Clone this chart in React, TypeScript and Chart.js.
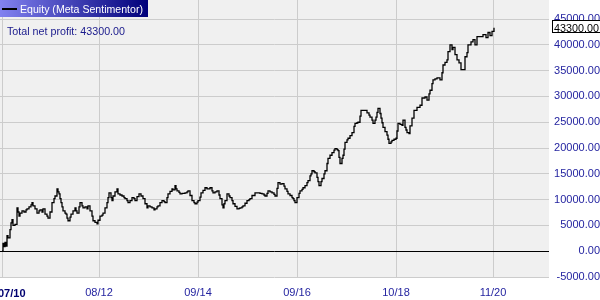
import React, { useEffect, useRef } from "react";
import { Chart, registerables } from "chart.js";

Chart.register(...registerables);

// bar index (time axis) and equity values
const barIndex: number[] = [
  2, 3, 4, 5, 6, 7, 8, 10, 11, 12, 13, 15, 17, 18, 19, 20, 22, 24, 26, 27, 29, 31, 32, 33, 35, 37, 39, 40, 42, 43, 45, 47, 48, 50,
  52, 54, 55, 57, 58, 59, 60, 61, 62, 63, 65, 66, 67, 68, 70, 71, 73, 75, 76, 77, 79, 80, 82, 83, 85, 87, 88, 90, 92, 93, 95, 97,
  98, 100, 102, 103, 105, 107, 108, 109, 111, 112, 113, 115, 117, 118, 120, 122, 124, 125, 127, 128, 130, 132, 134, 135, 137, 139,
  141, 143, 145, 147, 148, 150, 152, 154, 155, 157, 158, 160, 162, 164, 165, 167, 168, 170, 172, 173, 175, 176, 177, 179, 180, 182,
  185, 187, 188, 190, 192, 194, 195, 197, 198, 200, 201, 203, 205, 207, 210, 212, 213, 215, 217, 219, 220, 222, 223, 224, 225, 227,
  229, 230, 232, 233, 235, 237, 239, 240, 242, 243, 245, 247, 249, 250, 252, 255, 258, 260, 262, 264, 265, 267, 268, 270, 272, 274,
  275, 277, 278, 280, 282, 284, 285, 287, 288, 290, 292, 293, 294, 295, 297, 299, 300, 302, 303, 305, 307, 308, 310, 311, 312, 314,
  315, 317, 318, 319, 321, 322, 324, 325, 327, 328, 330, 332, 334, 335, 337, 338, 339, 340, 342, 343, 344, 345, 347, 348, 350, 352,
  354, 355, 357, 358, 360, 361, 363, 365, 367, 369, 370, 372, 373, 375, 376, 377, 378, 380, 381, 382, 383, 385, 387, 388, 389, 391,
  392, 394, 396, 397, 398, 400, 402, 403, 405, 406, 407, 409, 410, 412, 414, 417, 420, 422, 425, 427, 429, 430, 432, 433, 435, 437,
  440, 442, 443, 445, 447, 448, 450, 452, 453, 455, 457, 459, 461, 463, 465, 467, 468, 471, 473, 475, 477, 480, 482, 483, 486, 488,
  490, 492, 494,
];

const equity: number[] = [
  0, 1500, 900, 1700, 1000, 3000, 2600, 4200, 5500, 6100, 5000, 5200, 8400, 7600, 6800, 7400, 7800, 7600, 8000, 8200, 8600, 9000, 9400, 8800, 8200, 7400, 7800, 8000, 7600, 8200, 7200, 6800, 6400, 7600,
  9400, 10200, 10700, 12100, 11500, 11100, 10200, 9400, 8600, 7800, 7400, 7200, 6400, 5900, 6600, 7200, 7800, 8400, 7800, 7400, 8600, 9400, 8800, 8400, 8600, 8200, 8800, 7800, 6800, 5900, 5600, 5300,
  6000, 6800, 7000, 7400, 8400, 9400, 10400, 11300, 10400, 9800, 10700, 11500, 12100, 11100, 10900, 10700, 10400, 10200, 9800, 9400, 9800, 10400, 10200, 9800, 10600, 11100,
  10700, 10200, 9200, 8400, 8800, 8600, 8400, 8000, 8200, 8600, 8800, 9400, 9800, 9600, 9400, 10400, 11100, 11600, 12100, 11900, 12700, 12100, 11700, 11400, 11100, 11200,
  11300, 11500, 11700, 10800, 9800, 9400, 9200, 9500, 9800, 10500, 11300, 11800, 12300, 12100, 12300, 11700, 11300, 11500, 11700, 10900, 10200, 9000, 8400, 9200, 9800, 11100,
  10700, 10400, 9800, 9200, 8700, 8200, 8300, 8400, 8600, 8800, 9300, 9800, 10000, 10200, 10800, 11300, 11300, 11200, 11100, 10900, 10700, 11200, 11700, 11500, 11300, 11000,
  10700, 12200, 13300, 13000, 13100, 12600, 12100, 11600, 11100, 10800, 10400, 10200, 9800, 9400, 10400, 11200, 11700, 12000, 12300, 12700, 13300, 13700, 14600, 15000, 15600, 15400,
  15200, 14300, 13500, 12700, 13500, 14100, 15000, 15600, 17000, 18000, 18600, 19100, 19600, 19900, 19700, 19500, 18200, 17000, 18000, 18600, 19800, 21100, 21600, 21900, 22400, 23000,
  24200, 24800, 24900, 25000, 26200, 27300, 27300, 27300, 26800, 26400, 26000, 25400, 24800, 25400, 26000, 26900, 27700, 26700, 25800, 24900, 24000, 23200, 22500, 21700, 20900, 21200,
  21500, 21700, 21900, 23300, 24800, 24600, 24400, 25400, 24000, 23500, 23000, 22800, 24300, 25800, 27300, 27900, 28300, 29700, 29900, 29300, 30500, 31200, 32500, 33200, 33400, 33600,
  33200, 34600, 36100, 36600, 37100, 38700, 40000, 39100, 39500, 38100, 37100, 36500, 35200, 35200, 37700, 38500, 40000, 40600, 41000, 40000, 41600, 41600, 41600, 42000, 41400, 42400,
  41800, 42600, 43300,
];

const xTickPositions: number[] = [2, 99, 198, 297, 396, 493];
const xTickLabels: string[] = ["07/10", "08/12", "09/14", "09/16", "10/18", "11/20"];
const yTickValues: number[] = [-5000, 0, 5000, 10000, 15000, 20000, 25000, 30000, 35000, 40000, 45000];

const legendTitle = "Equity (Meta Sentimentor)";
const profitText = "Total net profit: 43300.00";
const lastValue = 43300;

const FONT = "'Liberation Sans', Arial, sans-serif";

const decorPlugin = {
  id: "decor",
  beforeDraw(chart: any) {
    const { ctx, chartArea, width, height } = chart;
    ctx.save();
    ctx.fillStyle = "#ffffff";
    ctx.fillRect(0, 0, width, height);
    ctx.fillStyle = "#f0f0f0";
    ctx.fillRect(chartArea.left, chartArea.top, chartArea.right - chartArea.left, chartArea.bottom - chartArea.top);
    ctx.restore();
  },
  afterDraw(chart: any) {
    const { ctx } = chart;
    const yScale = chart.scales.y;
    ctx.save();
    // first x label, clamped to the left edge
    ctx.font = `bold 11px ${FONT}`;
    ctx.fillStyle = "#000070";
    ctx.textAlign = "left";
    ctx.textBaseline = "alphabetic";
    ctx.fillText(xTickLabels[0], -2, 297);
    // legend box
    const grad = ctx.createLinearGradient(0, 0, 148, 0);
    grad.addColorStop(0, "#8282f0");
    grad.addColorStop(1, "#00007a");
    ctx.fillStyle = grad;
    ctx.fillRect(0, 0, 148, 17);
    ctx.fillStyle = "#000000";
    ctx.fillRect(2, 8, 15, 2);
    ctx.fillStyle = "#ffffff";
    ctx.font = `11px ${FONT}`;
    ctx.fillText(legendTitle, 20, 13, 123);
    // profit text
    ctx.fillStyle = "#1a1a8c";
    ctx.fillText(profitText, 7, 35, 118);
    // last value box
    const py = Math.round(yScale.getPixelForValue(lastValue));
    ctx.fillStyle = "#ffffff";
    ctx.fillRect(552, py - 7, 48, 12);
    ctx.strokeStyle = "#000000";
    ctx.lineWidth = 1;
    ctx.strokeRect(552.5, py - 7.5, 48, 12);
    ctx.fillStyle = "#000000";
    ctx.fillText(lastValue.toFixed(2), 554, py + 3.5, 45);
    ctx.restore();
  },
};

export default function App() {
  const ref = useRef<HTMLCanvasElement | null>(null);

  useEffect(() => {
    if (!ref.current) return;
    const chart = new Chart(ref.current, {
      type: "line",
      data: {
        datasets: [
          {
            data: barIndex.map((x, i) => ({ x, y: equity[i] })),
            borderColor: "#000000",
            borderWidth: 1.3,
            pointRadius: 0,
            stepped: true,
            fill: false,
          },
        ],
      },
      options: {
        animation: false,
        responsive: false,
        maintainAspectRatio: false,
        devicePixelRatio: 1,
        layout: { padding: 0, autoPadding: false } as any,
        plugins: { legend: { display: false }, tooltip: { enabled: false } },
        events: [],
        scales: {
          x: {
            type: "linear",
            position: "bottom",
            min: 0,
            max: 549,
            afterBuildTicks: (axis: any) => {
              axis.ticks = xTickPositions.map((v) => ({ value: v }));
            },
            afterFit: (axis: any) => {
              axis.height = 23;
              axis.paddingLeft = 0;
              axis.paddingRight = 0;
            },
            grid: { color: "#cccccc", drawTicks: false, lineWidth: 1 },
            border: { display: false },
            ticks: {
              autoSkip: false,
              maxRotation: 0,
              padding: 9,
              callback: (_v: any, i: number) => (i === 0 ? "" : xTickLabels[i]),
              font: { family: FONT, size: 11 },
              color: "#2424a0",
            },
          },
          y: {
            type: "linear",
            position: "right",
            min: -5000,
            max: 48700,
            afterBuildTicks: (axis: any) => {
              axis.ticks = yTickValues.map((v) => ({ value: v }));
            },
            afterFit: (axis: any) => {
              axis.width = 51;
              axis.paddingTop = 0;
              axis.paddingBottom = 0;
            },
            grid: {
              color: (c: any) => (c.tick && c.tick.value === 0 ? "#000000" : "#cccccc"),
              drawTicks: false,
              lineWidth: 1,
            },
            border: { display: false },
            ticks: {
              crossAlign: "far",
              padding: 2,
              callback: (v: any) => Number(v).toFixed(2),
              font: { family: FONT, size: 11 },
              color: "#2424a0",
            },
          },
        },
      },
      plugins: [decorPlugin],
    });
    return () => chart.destroy();
  }, []);

  return (
    <div style={{ position: "fixed", left: 0, top: 0, width: 600, height: 300 }}>
      <canvas ref={ref} width={600} height={300} style={{ display: "block" }} />
    </div>
  );
}
